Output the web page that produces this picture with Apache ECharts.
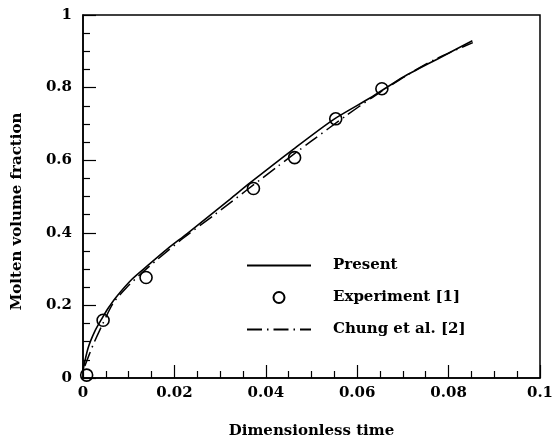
<!DOCTYPE html>
<html><head><meta charset="utf-8">
<script src="https://cdn.jsdelivr.net/npm/echarts@6/dist/echarts.min.js"></script>
<style>html,body{margin:0;padding:0;background:#fff}#c{width:560px;height:444px}</style>
</head><body><div id="c"></div>
<script>
const xTicks = [0, 0.02, 0.04, 0.06, 0.08, 0.1];
const yTicks = [0, 0.2, 0.4, 0.6, 0.8, 1];
const presentX = [0, 0.0011, 0.0026, 0.0042, 0.0055, 0.0072, 0.0107, 0.014, 0.0184, 0.0228, 0.0322, 0.0366, 0.046, 0.0548, 0.0629, 0.0702, 0.0776, 0.0852];
const presentY = [0.022, 0.082, 0.129, 0.165, 0.192, 0.222, 0.272, 0.308, 0.355, 0.398, 0.493, 0.538, 0.630, 0.712, 0.772, 0.830, 0.879, 0.929];
const expX = [0.0008, 0.0044, 0.0138, 0.0373, 0.0463, 0.0553, 0.0654];
const expY = [0.008, 0.159, 0.277, 0.522, 0.607, 0.714, 0.797];
const chungX = [0.0004, 0.0022, 0.0042, 0.0066, 0.0096, 0.0125, 0.0164, 0.0219, 0.0289, 0.0425, 0.0498, 0.0575, 0.0632, 0.0706, 0.0772, 0.0853];
const chungY = [0.033, 0.091, 0.146, 0.206, 0.250, 0.285, 0.328, 0.385, 0.451, 0.582, 0.651, 0.722, 0.772, 0.832, 0.879, 0.924];
const names = ['Present', 'Experiment [1]', 'Chung et al. [2]'];

const zip = (a, b) => a.map((v, i) => [v, b[i]]);
const F = 'DejaVu Serif';
const txt = {fontFamily: F, fontWeight: 'bold', fontSize: 15, color: '#000'};
const chart = echarts.init(document.getElementById('c'), null, {renderer: 'canvas'});
chart.setOption({
  animation: false,
  backgroundColor: '#fff',
  grid: {left: 83, right: 20, top: 15, bottom: 64, show: true, borderColor: '#000', borderWidth: 1.5, backgroundColor: 'transparent'},
  xAxis: {
    type: 'value', min: 0, max: 0.1, interval: 0.02,
    name: 'Dimensionless time', nameLocation: 'middle', nameGap: 46,
    nameTextStyle: txt,
    axisLine: {lineStyle: {color: '#000', width: 1.5}},
    axisTick: {inside: true, length: 13, lineStyle: {color: '#000', width: 1.2}},
    minorTick: {show: true, splitNumber: 4, length: 7, lineStyle: {color: '#000', width: 1.2}},
    splitLine: {show: false},
    axisLabel: Object.assign({margin: 8, hideOverlap: false, showMaxLabel: true, formatter: v => xTicks.includes(+v.toFixed(2)) ? String(+v.toFixed(2)) : ''}, txt)
  },
  yAxis: {
    type: 'value', min: 0, max: 1, interval: 0.2,
    name: 'Molten volume fraction', nameLocation: 'middle', nameGap: 58,
    nameTextStyle: Object.assign({}, txt, {fontSize: 15, padding: [0, 30, 0, 0]}),
    axisLine: {show: true, lineStyle: {color: '#000', width: 1.5}},
    axisTick: {show: true, inside: true, length: 13, lineStyle: {color: '#000', width: 1.2}},
    minorTick: {show: true, splitNumber: 4, length: 7, lineStyle: {color: '#000', width: 1.2}},
    splitLine: {show: false},
    axisLabel: Object.assign({margin: 11, formatter: v => yTicks.includes(+v.toFixed(1)) ? String(+v.toFixed(1)) : ''}, txt)
  },
  legend: {
    orient: 'vertical', left: 246, top: 258, padding: 0, itemWidth: 64, itemHeight: 11, itemGap: 17,
    textStyle: Object.assign({}, txt, {padding: [0, 0, 0, 17]}),
    data: [
      {name: names[0], itemStyle: {opacity: 0}},
      {name: names[1], icon: 'circle'},
      {name: names[2], itemStyle: {opacity: 0}}
    ]
  },
  series: [
    {name: names[0], type: 'line', data: zip(presentX, presentY), smooth: 0.25, showSymbol: false, symbol: 'none',
     lineStyle: {color: '#000', width: 1.6}, itemStyle: {color: '#000'}},
    {name: names[2], type: 'line', data: zip(chungX, chungY), smooth: 0.25, showSymbol: false, symbol: 'none',
     lineStyle: {color: '#000', width: 1.5, type: [15, 5, 1.5, 5]}, itemStyle: {color: '#000'}},
    {name: names[1], type: 'scatter', data: zip(expX, expY), symbol: 'circle', symbolSize: 12, clip: false,
     itemStyle: {color: 'transparent', borderColor: '#000', borderWidth: 1.6, opacity: 1}}
  ]
});
</script></body></html>
